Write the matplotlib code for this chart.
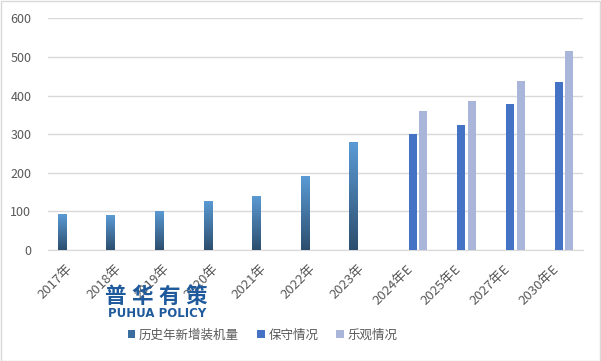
import matplotlib
matplotlib.use("Agg")
import matplotlib.pyplot as plt
import numpy as np
from matplotlib.patches import Patch
from matplotlib.colors import LinearSegmentedColormap
from matplotlib.transforms import ScaledTranslation

plt.rcParams['font.family'] = ['Noto Sans CJK SC', 'DejaVu Sans']

categories = ['2017年', '2018年', '2019年', '2020年', '2021年', '2022年', '2023年',
              '2024年E', '2025年E', '2027年E', '2030年E']
history = [93, 90, 101, 127, 140, 191, 279, None, None, None, None]
conservative = [None] * 7 + [300, 323, 378, 434]
optimistic = [None] * 7 + [360, 385, 437, 515]
series_names = ['历史年新增装机量', '保守情况', '乐观情况']
yticks = [0, 100, 200, 300, 400, 500, 600]
logo_chars = ['普', '华', '有', '策']

c_hist_top = '#5B9BD5'
c_hist_bot = '#2C4E6E'
c_cons = '#4472C4'
c_opt = '#A9B6D9'
c_text = '#595959'
c_logo = '#1F5A9C'

fig = plt.figure(figsize=(6.01, 3.61), dpi=100)
fig.patch.set_facecolor('white')
ax = fig.add_axes([0.0799, 0.3075, 0.8901, 0.6418])

x = np.arange(len(categories))
w = 0.165
off = 0.22

cmap = LinearSegmentedColormap.from_list('g', [c_hist_bot, c_hist_top])
grad = np.linspace(0, 1, 256).reshape(-1, 1)
for i, v in enumerate(history):
    if v is None:
        continue
    b = ax.bar(x[i] - off, v, w, color=c_hist_top, zorder=3)[0]
    im = ax.imshow(grad, cmap=cmap, origin='lower', aspect='auto',
                   extent=(x[i] - off - w / 2, x[i] - off + w / 2, 0, v), zorder=3.5)
    im.set_clip_path(b)

for i, v in enumerate(conservative):
    if v is not None:
        ax.bar(x[i], v, w, color=c_cons, zorder=3)
for i, v in enumerate(optimistic):
    if v is not None:
        ax.bar(x[i] + off, v, w, color=c_opt, zorder=3)

ax.set_xlim(-0.5, len(categories) - 0.5)
ax.set_ylim(0, 600)
ax.set_yticks(yticks)
ax.set_yticklabels([str(t) for t in yticks])
ax.yaxis.grid(True, color='#D9D9D9', linewidth=1.0, zorder=0)
ax.set_axisbelow(True)
for s in ['top', 'right', 'left']:
    ax.spines[s].set_visible(False)
ax.spines['bottom'].set_color('#D9D9D9')
ax.tick_params(axis='both', length=0, colors=c_text, labelsize=9)
ax.tick_params(axis='y', pad=12)
ax.set_xticks(x)
ax.set_xticklabels([''] * len(categories))

# category labels, rotated, placed relative to each tick
lab_tr = ax.get_xaxis_transform() + ScaledTranslation(-2 / 100, -17 / 100, fig.dpi_scale_trans)
for xi, lab in zip(x, categories):
    ax.text(xi, 0, lab, transform=lab_tr, rotation=45, rotation_mode='anchor',
            ha='right', va='center', fontsize=9.5, color=c_text)

handles = [Patch(facecolor='#3A6E9E'), Patch(facecolor=c_cons), Patch(facecolor=c_opt)]
leg = fig.legend(handles, series_names, loc='center', bbox_to_anchor=(0.437, 0.072),
                 ncol=3, frameon=False, fontsize=9, handlelength=0.6, handleheight=0.6,
                 handletextpad=0.3, columnspacing=1.45)
for t in leg.get_texts():
    t.set_color(c_text)

# watermark
x0 = 115 / 601
pitch = 27 / 601
for k, ch in enumerate(logo_chars):
    fig.text(x0 + k * pitch, 0.180, ch, fontsize=15.5, fontweight='black', color=c_logo,
             ha='center', va='center', zorder=10)
fig.text(0.262, 0.131, 'PUHUA POLICY', fontsize=8.5, fontweight='bold', color=c_logo,
         ha='center', va='center', family=['DejaVu Sans'], zorder=10)

# border
fig.add_artist(plt.Rectangle((0.001, 0.001), 0.997, 0.996, transform=fig.transFigure,
                             fill=False, edgecolor='#D9D9D9', linewidth=1))

fig.savefig('out.png', dpi=100)
